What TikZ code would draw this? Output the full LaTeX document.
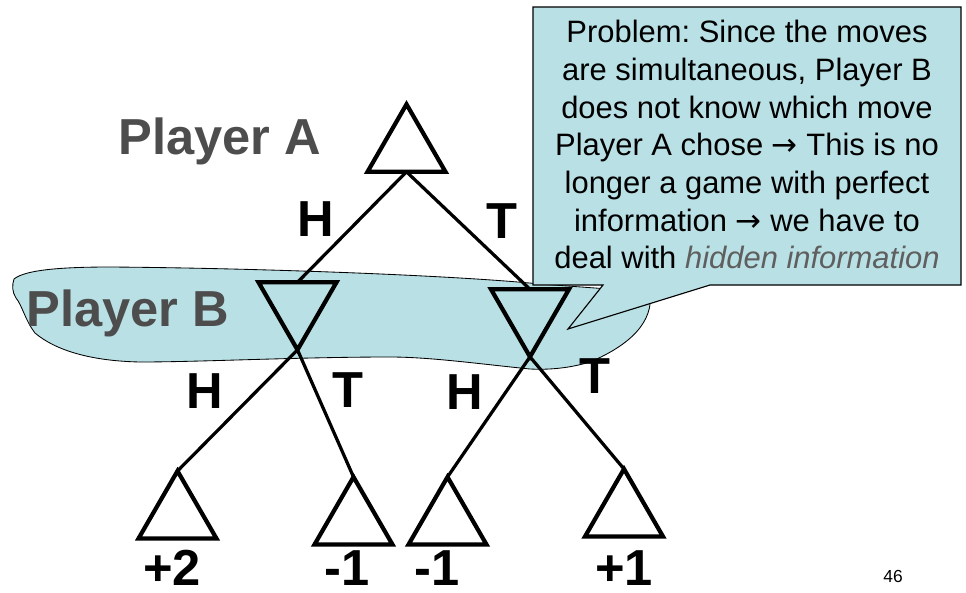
\documentclass[tikz,border=0pt]{standalone}
\usepackage{fontspec}
\setmainfont{Liberation Sans}
\newfontfamily\arrowfont{DejaVu Sans}
\usetikzlibrary{shapes.geometric}
\definecolor{blobc}{HTML}{B9E0E4}
\definecolor{labc}{HTML}{4D4D4D}
\definecolor{hidc}{HTML}{5F5F5F}
\newcommand{\impl}{{\arrowfont →}}
\frenchspacing

\begin{document}
\begin{tikzpicture}[x=0.025cm, y=-0.025cm,
      tri/.style={regular polygon, regular polygon sides=3, draw, line width=3pt,
                  minimum size=2.25cm, inner sep=0pt, outer sep=0pt},
      maxtri/.style={tri}, mintri/.style={tri, shape border rotate=180},
      branch/.style={line width=2.3pt},
      mv/.style={font=\fontsize{36}{40}\selectfont\bfseries, inner sep=0pt, anchor=base},
      pl/.style={mv, text=labc},
      note/.style={font=\fontsize{22}{26.8}\selectfont, align=center, inner sep=0pt}]
    \useasboundingbox (0,0) rectangle (966,592);
    % information set of player B
    \draw[fill=blobc, line width=0.6pt]
      (14,279) .. controls (25,270) and (60,267) .. (110,267)
      .. controls (250,268) and (450,275) .. (540,284)
      -- (650,292) .. controls (654,322) and (630,345) .. (590,362)
      .. controls (570,368) and (550,370) .. (530,369)
      .. controls (480,364) and (430,357) .. (390,357)
      .. controls (300,357) and (200,362) .. (140,362)
      .. controls (90,361) and (55,350) .. (35,333)
      .. controls (25,320) and (22,305) .. (16,298)
      .. controls (12,292) and (12,285) .. (14,279) -- cycle;

    \node[maxtri] (a)  at (406.5,149.3) {};
    \node[mintri] (bl) at (297.5,304.8) {};
    \node[mintri] (br) at (530,311.8) {};
    \node[maxtri] (l1) at (177.5,516) {};
    \node[maxtri] (l2) at (353.5,522) {};
    \node[maxtri] (l3) at (447.5,522) {};
    \node[maxtri] (l4) at (624,514) {};
    \foreach \u/\v in {a/bl, a/br}
      \draw[branch] (\u.side 2) -- (\v.side 2);
    \foreach \u/\v in {bl/l1, bl/l2, br/l3, br/l4}
      \draw[branch] (\u.corner 1) -- (\v.corner 1);

    \node[pl] (pa) at (220,154) {Player A};
    \node[pl] (pb) at (128,326) {Player B};
    \node[mv] (h1) at (316,236) {H};
    \node[mv] (t1) at (502,238) {T};
    \node[mv] (h2) at (205,408) {H};
    \node[mv] (t2) at (348,407) {T};
    \node[mv] (h3) at (465,409) {H};
    \node[mv] (t3) at (595,393) {T};
    \node[mv] (v1) at (172,585) {+2};
    \node[mv] (v2) at (347,585) {-1};
    \node[mv] (v3) at (437,585) {-1};
    \node[mv] (v4) at (624,585) {+1};

    % callout
    \draw[fill=blobc, line width=0.8pt]
      (533,7) -- (961,7) -- (961,285) -- (710,285) -- (568,329) -- (603,285)
      -- (533,285) -- cycle;
    \node[note, anchor=north] (prob) at (747,20)
      {Problem: Since the moves\\ are simultaneous, Player B\\ does not know which move\\
       Player A chose \impl{} This is no\\ longer a game with perfect\\
       information \impl{} we have to\\ deal with \textit{\color{hidc}hidden information}};
    \node[font=\fontsize{12.4}{14}\selectfont, anchor=base] (pg) at (893,582) {46};
  \end{tikzpicture}
\end{document}
